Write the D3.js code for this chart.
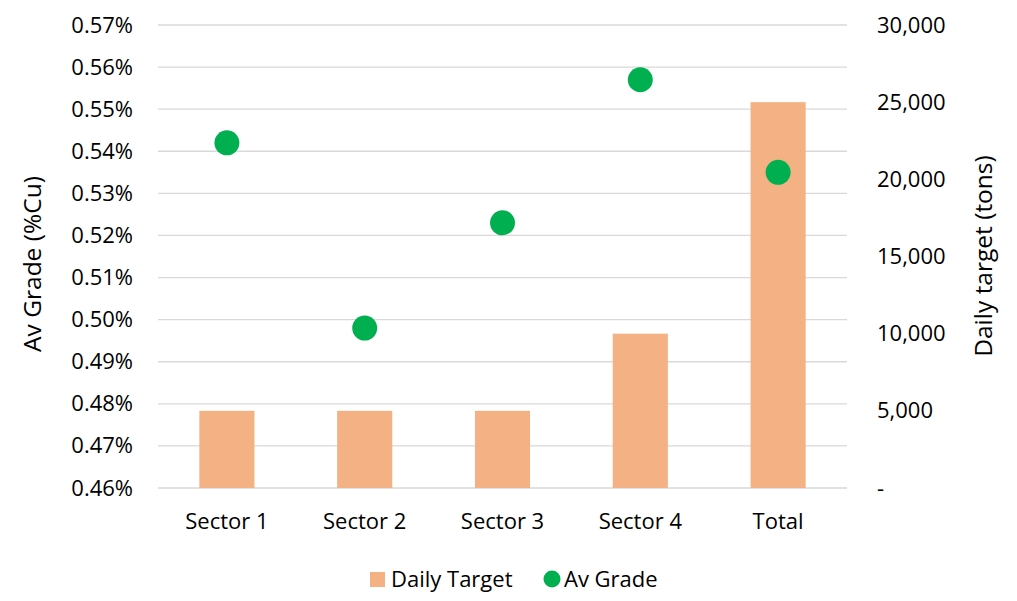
<!DOCTYPE html>
<html>
<head>
<meta charset="utf-8">
<script src="https://cdn.jsdelivr.net/npm/d3@7"></script>
<style>
  body { margin: 0; background: #fff; }
  text { font-family: "Open Sans", sans-serif; fill: #000; }
</style>
</head>
<body>
<div id="chart"></div>
<script>
// Chart data
const categories = ["Sector 1", "Sector 2", "Sector 3", "Sector 4", "Total"];
const dailyTarget = [5000, 5000, 5000, 10000, 25000];
const avGrade = [0.542, 0.498, 0.523, 0.557, 0.535];
const gradeTicks = [0.46, 0.47, 0.48, 0.49, 0.50, 0.51, 0.52, 0.53, 0.54, 0.55, 0.56, 0.57];
const tonTicks = [0, 5000, 10000, 15000, 20000, 25000, 30000];

const width = 1017, height = 601;
const margin = {top: 25, right: 170, bottom: 113, left: 158};
const font = '"Open Sans", sans-serif';

const svg = d3.select("#chart")
    .append("svg")
    .attr("width", width)
    .attr("height", height);

// Scales
const x = d3.scaleBand()
    .domain(categories)
    .range([margin.left, width - margin.right]);

const yLeft = d3.scaleLinear()
    .domain([0.46, 0.57])
    .range([height - margin.bottom, margin.top]);

const yRight = d3.scaleLinear()
    .domain([0, 30000])
    .range([height - margin.bottom, margin.top]);

// Gridlines
svg.append("g")
    .selectAll("line")
    .data(gradeTicks)
    .enter()
    .append("line")
    .attr("x1", margin.left)
    .attr("x2", width - margin.right)
    .attr("y1", d => yLeft(d))
    .attr("y2", d => yLeft(d))
    .attr("stroke", "#d9d9d9")
    .attr("stroke-width", 1.3);

// Bars
const barWidth = x.bandwidth() * 0.4;
svg.append("g")
    .selectAll("rect")
    .data(categories)
    .enter()
    .append("rect")
    .attr("x", d => x(d) + (x.bandwidth() - barWidth) / 2)
    .attr("y", (d, i) => yRight(dailyTarget[i]))
    .attr("width", barWidth)
    .attr("height", (d, i) => yRight(0) - yRight(dailyTarget[i]))
    .attr("fill", "#f4b183");

// Points
svg.append("g")
    .selectAll("circle")
    .data(categories)
    .enter()
    .append("circle")
    .attr("cx", d => x(d) + x.bandwidth() / 2)
    .attr("cy", (d, i) => yLeft(avGrade[i]))
    .attr("r", 12.5)
    .attr("fill", "#00b050");

// Left axis
const leftAxis = svg.append("g")
    .attr("transform", `translate(${margin.left},0)`)
    .call(d3.axisLeft(yLeft).tickValues(gradeTicks).tickFormat(d => d.toFixed(2) + "%").tickSize(0).tickPadding(25));
leftAxis.select(".domain").remove();
leftAxis.selectAll("text").style("font-size", "22px").style("font-family", font);

// Right axis
const rightAxis = svg.append("g")
    .attr("transform", `translate(${width - margin.right},0)`)
    .call(d3.axisRight(yRight).tickValues(tonTicks).tickFormat(d => d === 0 ? "-" : d3.format(",")(d)).tickSize(0).tickPadding(30));
rightAxis.select(".domain").remove();
rightAxis.selectAll("text").style("font-size", "22px").style("font-family", font);

// Bottom axis
const bottomAxis = svg.append("g")
    .attr("transform", `translate(0,${height - margin.bottom})`)
    .call(d3.axisBottom(x).tickSize(0).tickPadding(25));
bottomAxis.select(".domain").remove();
bottomAxis.selectAll("text").style("font-size", "22px").style("font-family", font);

// Axis titles
svg.append("text")
    .attr("transform", "translate(41,264) rotate(-90)")
    .attr("text-anchor", "middle")
    .style("font-size", "24.5px")
    .text("Av Grade (%Cu)");

svg.append("text")
    .attr("transform", "translate(992,256) rotate(-90)")
    .attr("text-anchor", "middle")
    .style("font-size", "24.5px")
    .text("Daily target (tons)");

// Legend
const legend = svg.append("g");
legend.append("rect")
    .attr("x", 370)
    .attr("y", 572)
    .attr("width", 15)
    .attr("height", 15)
    .attr("fill", "#f4b183");
legend.append("text")
    .attr("x", 391)
    .attr("y", 587)
    .style("font-size", "22px")
    .text("Daily Target");
legend.append("circle")
    .attr("cx", 552)
    .attr("cy", 579)
    .attr("r", 8.5)
    .attr("fill", "#00b050");
legend.append("text")
    .attr("x", 564)
    .attr("y", 587)
    .style("font-size", "22px")
    .text("Av Grade");
</script>
</body>
</html>
